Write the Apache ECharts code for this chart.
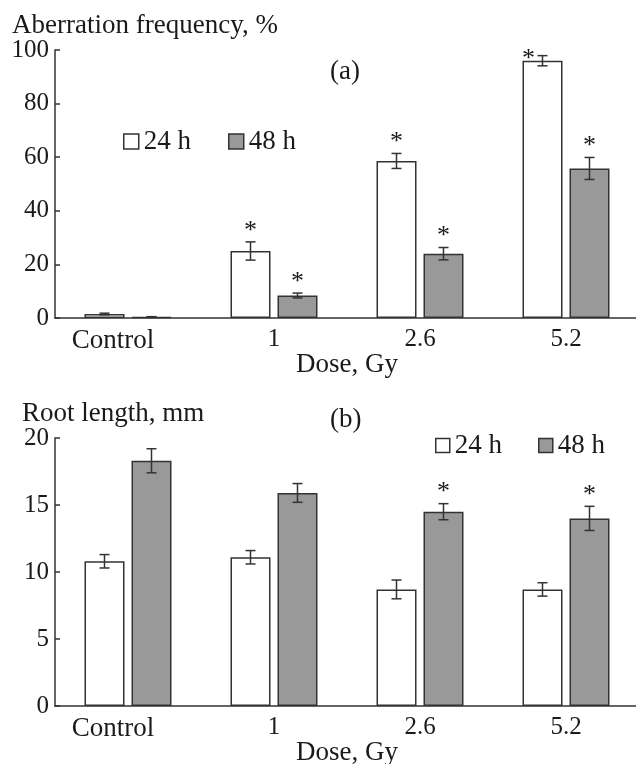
<!DOCTYPE html>
<html>
<head>
<meta charset="utf-8">
<script src="https://cdn.jsdelivr.net/npm/echarts@6/dist/echarts.min.js"></script>
<style>
html,body{margin:0;padding:0;background:#fff;}
#chart{width:636px;height:764px;}
</style>
</head>
<body>
<div id="chart"></div>
<script>
// ---- data ----
const categories = ['Control', '1', '2.6', '5.2'];
const seriesNames = ['24 h', '48 h'];

// (a) Aberration frequency, %
const aberr24 = [1.5, 25.0, 58.6, 96.0];
const aberr24Err = [0.3, 3.4, 2.8, 1.9];
const aberr24Star = [0, 1, 1, 1];
const aberr48 = [0.4, 8.4, 24.0, 55.8];
const aberr48Err = [0.1, 0.9, 2.3, 4.1];
const aberr48Star = [0, 1, 1, 1];

// (b) Root length, mm
const root24 = [10.8, 11.1, 8.7, 8.7];
const root24Err = [0.5, 0.5, 0.7, 0.5];
const root24Star = [0, 0, 0, 0];
const root48 = [18.3, 15.9, 14.5, 14.0];
const root48Err = [0.9, 0.7, 0.6, 0.9];
const root48Star = [0, 0, 1, 1];

const aTicks = {min: 0, max: 100, interval: 20};
const bTicks = {min: 0, max: 20, interval: 5};

// ---- style ----
const FONT = '"Liberation Serif", "Times New Roman", serif';
const FS = 25;     // digits
const FW = 27;     // words
const INK = '#1a1a1a';
const EDGE = '#333333';
const GREY = '#999999';
const BAR_W = 40;
const BAR_GAP = 7;

function errData(vals, errs, stars) {
  return vals.map((v, i) => [i, v - errs[i], v + errs[i], stars[i]]);
}

function errRender(side) {
  return function (params, api) {
    const i = api.value(0);
    const lo = api.coord([i, api.value(1)]);
    const hi = api.coord([i, api.value(2)]);
    const star = api.value(3);
    const x = lo[0] + side * (BAR_W + BAR_GAP) / 2;
    const cap = 5;
    const ls = {stroke: EDGE, lineWidth: 1.5};
    const children = [
      {type: 'line', shape: {x1: x, y1: lo[1], x2: x, y2: hi[1]}, style: ls},
      {type: 'line', shape: {x1: x - cap, y1: lo[1], x2: x + cap, y2: lo[1]}, style: ls},
      {type: 'line', shape: {x1: x - cap, y1: hi[1], x2: x + cap, y2: hi[1]}, style: ls}
    ];
    if (star) {
      const gridTop = params.coordSys.y;
      let sx = x, sy = hi[1] - 11;
      if (hi[1] - 18 < gridTop) { sx = x - 14; sy = hi[1] + 4; }
      children.push({
        type: 'text',
        style: {text: '*', x: sx, y: sy, align: 'center', verticalAlign: 'middle',
                font: '26px ' + FONT, fill: INK}
      });
    }
    return {type: 'group', children: children};
  };
}

function xAxisDef(gridIndex) {
  return {
    type: 'category', gridIndex: gridIndex, data: categories,
    axisLine: {lineStyle: {color: EDGE, width: 1.5}},
    axisTick: {show: false},
    axisLabel: {
      color: INK, fontFamily: FONT, fontSize: FS,
      margin: 9, interval: 0,
      formatter: function (v, idx) { return idx === 0 ? '{c|' + v + '}' : v; },
      rich: {c: {color: INK, fontFamily: FONT, fontSize: FW, padding: [0, 30, 0, 0]}}
    },
    name: 'Dose, Gy', nameLocation: 'middle', nameGap: 33, nameMoveOverlap: false,
    nameTextStyle: {color: INK, fontFamily: FONT, fontSize: FW}
  };
}
function yAxisDef(gridIndex, t) {
  return {
    type: 'value', gridIndex: gridIndex, min: t.min, max: t.max, interval: t.interval,
    axisLine: {show: true, lineStyle: {color: EDGE, width: 1.5}},
    axisTick: {show: true, inside: true, length: 5, lineStyle: {color: EDGE, width: 1.5}},
    axisLabel: {color: INK, fontFamily: FONT, fontSize: FS, margin: 6},
    splitLine: {show: false}
  };
}

function barSeries(name, data, x, y, fill) {
  return {
    type: 'bar', name: name, xAxisIndex: x, yAxisIndex: y, data: data,
    barWidth: BAR_W, barGap: (BAR_GAP / BAR_W * 100) + '%',
    itemStyle: {color: fill, borderColor: EDGE, borderWidth: 1.5},
    emphasis: {disabled: true}, silent: true
  };
}
function errSeries(data, x, y, side) {
  return {
    type: 'custom', xAxisIndex: x, yAxisIndex: y, data: data,
    renderItem: errRender(side), silent: true, z: 5
  };
}

const legendBase = {
  orient: 'horizontal', itemWidth: 15, itemHeight: 15, itemGap: 37,
  textStyle: {color: INK, fontFamily: FONT, fontSize: FW, padding: [2, 0, 0, 0]},
  icon: 'rect', padding: 0,
  itemStyle: {borderColor: EDGE, borderWidth: 1.5},
  data: seriesNames, selectedMode: false
};

const titleText = {color: INK, fontFamily: FONT, fontSize: FW, fontWeight: 'normal'};

const option = {
  backgroundColor: '#fff',
  animation: false,
  title: [
    {text: 'Aberration frequency, %', left: 12, top: 12, padding: 0, textStyle: titleText},
    {text: '(a)', left: 330, top: 58, padding: 0, textStyle: titleText},
    {text: 'Root length, mm', left: 22, top: 400, padding: 0, textStyle: titleText},
    {text: '(b)', left: 330, top: 406, padding: 0, textStyle: titleText}
  ],
  legend: [
    Object.assign({}, legendBase, {left: 123, top: 128}),
    Object.assign({}, legendBase, {left: 435, top: 432, itemHeight: 14, itemWidth: 14, itemGap: 36})
  ],
  grid: [
    {left: 55, top: 50, width: 584, height: 268, outerBoundsMode: 'none', containLabel: false},
    {left: 55, top: 438, width: 584, height: 268, outerBoundsMode: 'none', containLabel: false}
  ],
  xAxis: [xAxisDef(0), xAxisDef(1)],
  yAxis: [yAxisDef(0, aTicks), yAxisDef(1, bTicks)],
  series: [
    barSeries(seriesNames[0], aberr24, 0, 0, '#ffffff'),
    barSeries(seriesNames[1], aberr48, 0, 0, GREY),
    errSeries(errData(aberr24, aberr24Err, aberr24Star), 0, 0, -1),
    errSeries(errData(aberr48, aberr48Err, aberr48Star), 0, 0, 1),
    barSeries(seriesNames[0], root24, 1, 1, '#ffffff'),
    barSeries(seriesNames[1], root48, 1, 1, GREY),
    errSeries(errData(root24, root24Err, root24Star), 1, 1, -1),
    errSeries(errData(root48, root48Err, root48Star), 1, 1, 1)
  ]
};

const chart = echarts.init(document.getElementById('chart'), null, {renderer: 'canvas'});
chart.setOption(option);
</script>
</body>
</html>
